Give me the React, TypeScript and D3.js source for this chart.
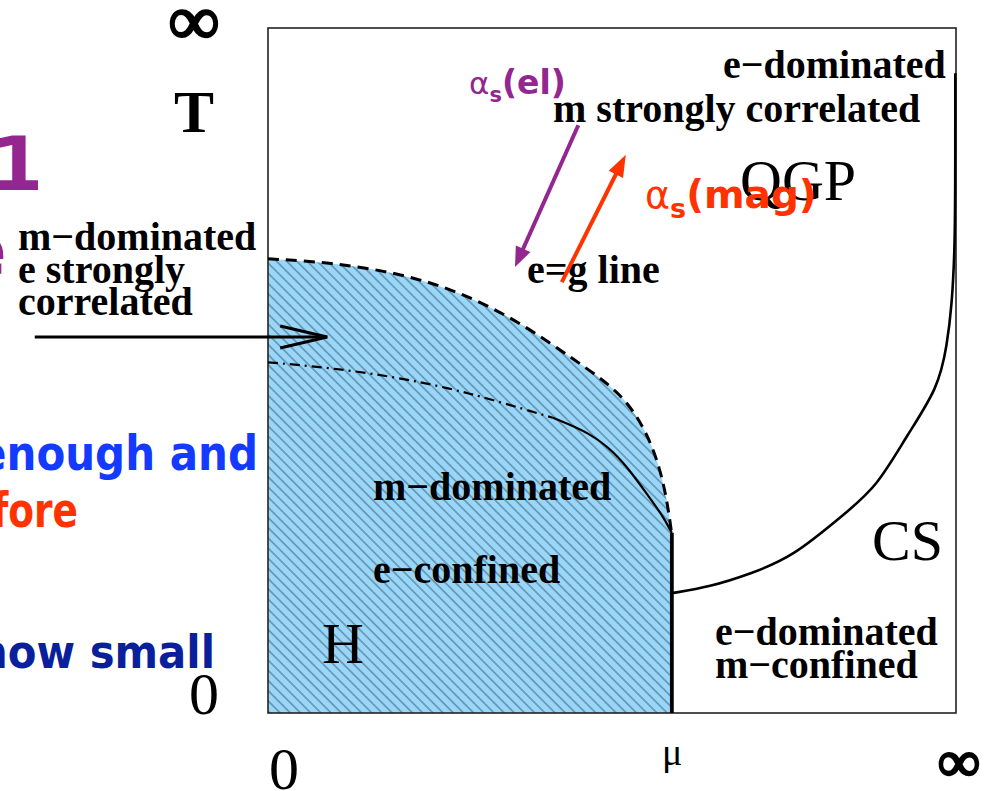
import React from "react";
import * as d3 from "d3";

// Phase diagram in (mu, T), both axes normalised to [0, 1] inside the frame.
type Pt = [number, number];

// Dashed boundary of the hadronic (H) phase, from the T axis down to the first-order line.
const hadronBoundary: Pt[] = [
  [0.0, 0.663],
  [0.09, 0.658],
  [0.192, 0.642],
  [0.279, 0.615],
  [0.366, 0.571],
  [0.446, 0.515],
  [0.512, 0.469],
  [0.548, 0.416],
  [0.57, 0.358],
  [0.581, 0.304],
  [0.587, 0.26],
];

// Dash-dotted crossover line inside H.
const crossoverDashDot: Pt[] = [
  [0.0, 0.512],
  [0.09, 0.504],
  [0.182, 0.491],
  [0.265, 0.474],
  [0.327, 0.457],
  [0.414, 0.431],
];

// Solid continuation of the crossover line down to the critical point.
const crossoverSolid: Pt[] = [
  [0.414, 0.431],
  [0.468, 0.409],
  [0.504, 0.38],
  [0.529, 0.35],
  [0.552, 0.318],
  [0.573, 0.289],
  [0.587, 0.263],
];

// First-order transition line at the critical chemical potential.
const firstOrderLine: Pt[] = [
  [0.587, 0.263],
  [0.587, 0.0],
];

// Boundary between the QGP and the colour-superconducting (CS) phase.
const csBoundary: Pt[] = [
  [0.587, 0.175],
  [0.642, 0.184],
  [0.701, 0.203],
  [0.763, 0.228],
  [0.836, 0.289],
  [0.885, 0.33],
  [0.929, 0.406],
  [0.974, 0.474],
  [0.987, 0.537],
  [0.994, 0.596],
  [0.998, 0.672],
  [0.999, 0.759],
  [0.999, 0.934],
];

// Coupling-flow arrows and the pointer to the hadronic region.
const elArrow: Pt[] = [
  [0.451, 0.858],
  [0.359, 0.651],
];
const magArrow: Pt[] = [
  [0.427, 0.629],
  [0.52, 0.815],
];
const pointerArrow: Pt[] = [
  [-0.339, 0.549],
  [0.086, 0.549],
];

const W = 986;
const H = 791;
const frame = { left: 268, right: 956, top: 28, bottom: 713 };

const mu = d3.scaleLinear().domain([0, 1]).range([frame.left, frame.right]);
const temp = d3.scaleLinear().domain([0, 1]).range([frame.bottom, frame.top]);

const smooth = d3
  .line<Pt>()
  .x((d) => mu(d[0]))
  .y((d) => temp(d[1]))
  .curve(d3.curveBasis);

const straight = d3
  .line<Pt>()
  .x((d) => mu(d[0]))
  .y((d) => temp(d[1]));

const PURPLE = "#93268f";
const RED = "#ff3300";
const SERIF = "'Liberation Serif', 'Times New Roman', serif";
const SANS = "'DejaVu Sans', Verdana, sans-serif";

function filledArrow(pts: Pt[], color: string, width: number, headLen: number, headW: number) {
  const x0 = mu(pts[0][0]);
  const y0 = temp(pts[0][1]);
  const x1 = mu(pts[1][0]);
  const y1 = temp(pts[1][1]);
  const len = Math.hypot(x1 - x0, y1 - y0);
  const ux = (x1 - x0) / len;
  const uy = (y1 - y0) / len;
  const nx = -uy;
  const ny = ux;
  const bx = x1 - ux * headLen;
  const by = y1 - uy * headLen;
  const ex = x1 - ux * headLen * 0.6;
  const ey = y1 - uy * headLen * 0.6;
  const head = [
    [x1, y1],
    [bx + (nx * headW) / 2, by + (ny * headW) / 2],
    [bx - (nx * headW) / 2, by - (ny * headW) / 2],
  ]
    .map((p) => p.join(","))
    .join(" ");
  return (
    <g>
      <line x1={x0} y1={y0} x2={ex} y2={ey} stroke={color} strokeWidth={width} />
      <polygon points={head} fill={color} />
    </g>
  );
}

function openArrow(pts: Pt[], color: string, width: number, headLen: number, headW: number) {
  const x0 = mu(pts[0][0]);
  const y0 = temp(pts[0][1]);
  const x1 = mu(pts[1][0]);
  const y1 = temp(pts[1][1]);
  const len = Math.hypot(x1 - x0, y1 - y0);
  const ux = (x1 - x0) / len;
  const uy = (y1 - y0) / len;
  const nx = -uy;
  const ny = ux;
  const bx = x1 - ux * headLen;
  const by = y1 - uy * headLen;
  const d = `M${bx + nx * headW},${by + ny * headW}L${x1},${y1}L${bx - nx * headW},${by - ny * headW}`;
  return (
    <g>
      <line x1={x0} y1={y0} x2={x1} y2={y1} stroke={color} strokeWidth={width} />
      <path d={d} fill="none" stroke={color} strokeWidth={width} strokeLinejoin="miter" />
    </g>
  );
}

export default function App() {
  const areaPath = smooth(hadronBoundary) + `L${mu(0.587)},${temp(0)}L${mu(0)},${temp(0)}Z`;

  const boldLabel = { fontFamily: SERIF, fontWeight: 700, fontSize: 40, fill: "#000" } as const;
  const bigLabel = { fontFamily: SERIF, fontWeight: 400, fontSize: 58, fill: "#000" } as const;

  return (
    <svg
      width={W}
      height={H}
      viewBox={`0 0 ${W} ${H}`}
      style={{ position: "fixed", left: 0, top: 0, display: "block", background: "#fff" }}
    >
      <defs>
        <pattern
          id="hatch"
          width={7.2}
          height={7.2}
          patternUnits="userSpaceOnUse"
          patternTransform="rotate(45)"
        >
          <line x1={0} y1={3.6} x2={7.2} y2={3.6} stroke="#4a6878" strokeWidth={1} />
        </pattern>
      </defs>

      <rect x={0} y={0} width={W} height={H} fill="#fff" />

      {/* side text of the surrounding slide, partly clipped at the left edge */}
      <text x={-9} y={190} fontFamily={SANS} fontWeight={700} fontSize={75} fill={PURPLE}>
        1
      </text>
      <text x={-44} y={276} fontFamily={SANS} fontWeight={700} fontSize={75} fill={PURPLE}>
        e
      </text>
      <text
        x={-22}
        y={470}
        fontFamily={SANS}
        fontWeight={700}
        fontSize={48}
        fill="#1439ff"
        textLength={280}
        lengthAdjust="spacingAndGlyphs"
      >
        enough and
      </text>
      <text
        x={-8}
        y={527}
        fontFamily={SANS}
        fontWeight={700}
        fontSize={48}
        fill={RED}
        textLength={86}
        lengthAdjust="spacingAndGlyphs"
      >
        fore
      </text>
      <text
        x={-22}
        y={668}
        fontFamily={SANS}
        fontWeight={700}
        fontSize={47}
        fill="#0a1f9c"
        textLength={237}
        lengthAdjust="spacingAndGlyphs"
      >
        how small
      </text>

      {/* hadronic phase: light blue fill with diagonal hatching */}
      <path d={areaPath} fill="#98d6fa" stroke="none" />
      <path d={areaPath} fill="url(#hatch)" stroke="none" />

      {/* frame */}
      <rect
        x={frame.left}
        y={frame.top}
        width={frame.right - frame.left}
        height={frame.bottom - frame.top}
        fill="none"
        stroke="#222"
        strokeWidth={1.6}
      />

      {/* phase boundaries */}
      <path d={smooth(hadronBoundary) ?? ""} fill="none" stroke="#000" strokeWidth={3} strokeDasharray="11,7" />
      <path d={smooth(crossoverDashDot) ?? ""} fill="none" stroke="#000" strokeWidth={2.2} strokeDasharray="10,5,2,5" />
      <path d={smooth(crossoverSolid) ?? ""} fill="none" stroke="#000" strokeWidth={2.2} />
      <path d={straight(firstOrderLine) ?? ""} fill="none" stroke="#000" strokeWidth={3.8} />
      <path d={smooth(csBoundary) ?? ""} fill="none" stroke="#000" strokeWidth={2.6} />

      {/* axis annotations */}
      <text
        x={194}
        y={44}
        textAnchor="middle"
        fontFamily={SERIF}
        fontWeight={700}
        fontSize={70}
        stroke="#000"
        strokeWidth={2.4}
      >
        ∞
      </text>
      <text x={174} y={132} fontFamily={SERIF} fontWeight={700} fontSize={60}>
        T
      </text>
      <text x={189} y={714} fontFamily={SERIF} fontSize={60}>
        0
      </text>
      <text x={269} y={789} fontFamily={SERIF} fontSize={60}>
        0
      </text>
      <text x={662} y={765} fontFamily={SERIF} fontSize={38}>
        μ
      </text>
      <text
        x={959}
        y={781}
        textAnchor="middle"
        fontFamily={SERIF}
        fontWeight={700}
        fontSize={58}
        stroke="#000"
        strokeWidth={2.4}
      >
        ∞
      </text>

      {/* region labels */}
      <text x={18} y={250} {...boldLabel}>m−dominated</text>
      <text x={18} y={283} {...boldLabel}>e strongly</text>
      <text x={18} y={315} {...boldLabel}>correlated</text>

      <text x={723} y={78} {...boldLabel}>e−dominated</text>
      <text x={553} y={122} {...boldLabel}>m strongly correlated</text>
      <text x={527} y={283} {...boldLabel}>e=g line</text>

      <text x={373} y={500} {...boldLabel}>m−dominated</text>
      <text x={373} y={583} {...boldLabel}>e−confined</text>

      <text x={715} y={645} {...boldLabel}>e−dominated</text>
      <text x={715} y={678} {...boldLabel}>m−confined</text>

      <text x={740} y={200} {...bigLabel}>QGP</text>
      <text x={872} y={560} {...bigLabel}>CS</text>
      <text x={322} y={663} {...bigLabel}>H</text>

      {/* coupling labels */}
      <text x={469} y={94} fill={PURPLE} fontFamily={SANS}>
        <tspan fontSize={31}>α</tspan>
        <tspan fontSize={21} fontWeight={700} dy={8}>s</tspan>
        <tspan fontSize={33} fontWeight={700} dy={-8}>(el)</tspan>
      </text>
      <text x={645} y={208} fill={RED} fontFamily={SANS}>
        <tspan fontSize={38}>α</tspan>
        <tspan fontSize={27} fontWeight={700} dy={10}>s</tspan>
        <tspan fontSize={39} fontWeight={700} dy={-10}>(mag)</tspan>
      </text>

      {/* arrows */}
      {openArrow(pointerArrow, "#000", 3, 47, 11)}
      {filledArrow(elArrow, PURPLE, 4, 20, 16)}
      {filledArrow(magArrow, RED, 4, 22, 16)}
    </svg>
  );
}
